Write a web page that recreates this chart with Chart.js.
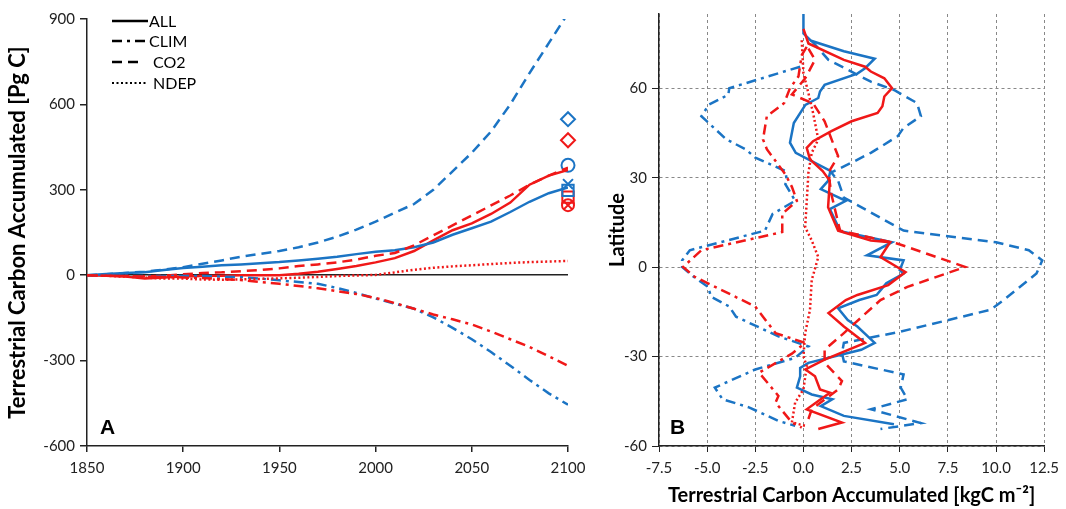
<!DOCTYPE html>
<html>
<head>
<meta charset="utf-8">
<script src="https://cdn.jsdelivr.net/npm/chart.js@4.4.1/dist/chart.umd.min.js"></script>
<style>
  html, body { margin: 0; padding: 0; background: #fff; }
  #wrap { position: relative; width: 1066px; height: 509px; }
  #chartA { position: absolute; left: 0; top: 0; }
  #chartB { position: absolute; left: 590px; top: 0; }
</style>
</head>
<body>
<div id="wrap">
  <canvas id="chartA" width="600" height="509"></canvas>
  <canvas id="chartB" width="476" height="509"></canvas>
</div>
<script>
// ---- Panel A: global accumulation [Pg C] by year ----
const years = [1850, 1860, 1870, 1880, 1890, 1900, 1910, 1920, 1930, 1940, 1950, 1960, 1970,
               1980, 1990, 2000, 2010, 2020, 2030, 2040, 2050, 2060, 2070, 2080, 2090, 2100];
const allBlue  = [0, 4, 8, 10, 18, 25, 30, 35, 38, 42, 46, 52, 58, 65, 74, 82, 88, 98, 115, 142, 165, 188, 222, 258, 288, 308];
const allRed   = [0, -2, -5, -12, -8, -5, -3, -2, 0, 0, 0, 5, 12, 22, 32, 45, 60, 85, 122, 158, 182, 215, 255, 318, 350, 370];
const climBlue = [0, -1, -2, -3, -3, -3, -3, -5, -7, -12, -18, -24, -30, -45, -62, -82, -100, -118, -148, -185, -225, -270, -318, -368, -415, -455];
const climRed  = [0, -2, -3, -5, -6, -8, -10, -14, -17, -24, -30, -38, -46, -56, -66, -80, -98, -118, -138, -155, -173, -198, -225, -252, -285, -318];
const co2Blue  = [0, 3, 8, 12, 20, 28, 40, 52, 65, 75, 85, 98, 115, 135, 160, 188, 220, 250, 300, 365, 430, 505, 600, 710, 815, 920];
const co2Red   = [0, -2, -3, -4, -2, 3, 8, 10, 14, 18, 24, 32, 38, 45, 55, 68, 78, 105, 140, 175, 210, 245, 280, 318, 350, 378];
const ndepRed  = [0, -2, -5, -8, -12, -12, -15, -16, -15, -13, -11, -9, -6, -3, -1, 1, 10, 19, 26, 31, 35, 39, 43, 46, 48, 50];

// markers at 2100 (other model estimates)
const markYear = 2100;
const blueMarks = { diamond: 548, circle: 386, cross: 320, square: 298 };
const redMarks  = { diamond: 474, circle: 246, cross: 246, square: 274 };

// ---- Panel B: zonal accumulation [kgC m-2] by latitude ----
const allBlueLat = [85, 78.5, 76, 72.5, 70, 66.8, 65, 61.2, 59, 56.8, 54.5, 48.4, 41.8, 38.4, 35, 32.3, 29, 26.2, 22.3, 19.5, 12.3, 11.8, 8.4, 4, 2.3, -1, -2.1, -5.4, -9.3, -11, -13.8, -17.7, -19.9, -25.4, -27.7, -29.3, -32.1, -33.8, -36.6, -40.4, -42.7, -44.3, -46.6, -49.9, -52.7];
const allBlueVal = [0, 0, 0.4, 2.1, 3.7, 3.2, 2.8, 1.1, 0.86, 0.77, 0.1, -0.5, -0.7, -0.4, 0.6, 1.4, 1.28, 0.9, 2.2, 1.37, 1.9, 2.1, 4.6, 3.3, 5.2, 5.0, 5.2, 4.3, 3.8, 2.9, 1.8, 2.3, 2.8, 3.7, 3.0, 2.0, 0.26, -0.17, -0.17, -0.34, 0.43, 1.5, 0.9, 2.1, 4.7];
const allRedLat  = [80, 75.1, 69.6, 67.3, 65.7, 63.4, 60.1, 57.3, 54, 51.8, 49, 45.7, 42.3, 40.1, 36.2, 32.3, 29, 20.1, 12.3, 9, 8.4, 3.4, -1.6, -6, -9.3, -11, -15.4, -19.9, -25.4, -31, -34.3, -36.6, -41, -42.1, -44.9, -47.7, -52.1, -54.3];
const allRedVal  = [0, 0.26, 2.1, 3.2, 3.5, 4.2, 4.6, 4.2, 4.1, 3.85, 2.5, 1.45, 0.5, 0.17, 0.34, 1.0, 1.37, 1.28, 1.8, 3.5, 4.5, 4.0, 5.3, 4.4, 2.8, 2.2, 1.3, 2.1, 3.2, 1.1, 0.1, 0.6, 0.86, 1.37, 0.77, 0.17, 2.0, 0.77];
const climBlueLat = [67.3, 65.7, 60.1, 57.9, 54.6, 50.7, 42.9, 39.6, 36.8, 32.3, 29, 27.9, 22.3, 17.9, 12.3, 5.7, 2.3, 0.1, -3.2, -6.6, -9.9, -13.2, -16.6, -23.2, -26.6, -30.4, -34.3, -40.4, -44.3, -47.1, -51.6, -53.2];
const climBlueVal = [-0.17, -1.0, -3.85, -3.9, -4.9, -5.3, -4.0, -3.0, -2.5, -0.94, -0.86, -0.94, -0.43, -1.6, -2.0, -5.9, -6.3, -6.3, -5.7, -4.95, -4.8, -3.85, -3.5, -1.3, 0.26, -0.43, -2.5, -4.6, -4.2, -2.8, -1.3, -0.43];
const climRedLat = [74, 71.2, 64, 60.1, 55.1, 50.7, 42.9, 39.6, 35.7, 31.2, 27, 22.3, 17.9, 11.8, 5.7, 0.1, -3.2, -13.2, -22.1, -25.4, -29, -35.4, -43.2, -45.4, -52.1, -53.8];
const climRedVal = [0.17, -0.09, -0.26, -0.7, -1.0, -1.9, -2.1, -1.9, -1.45, -0.94, -0.6, -0.34, -1.1, -1.1, -5.3, -6.25, -5.65, -2.5, -1.45, 0.09, -0.6, -2.3, -1.3, -1.45, -0.6, -0.09];
const co2BlueLat = [76, 69.6, 62.3, 59.5, 55.1, 50.7, 46.8, 44, 38.4, 35.1, 31.8, 29, 23.4, 12.3, 8.4, 5.7, 2.3, -2.1, -11.5, -14.3, -21.6, -25.4, -28.8, -31.6, -36, -40.4, -44.3, -47.7, -52.3, -54.3];
const co2BlueVal = [0.43, 1.3, 3.5, 4.7, 5.9, 6.1, 5.2, 4.9, 3.5, 2.5, 1.45, 1.8, 2.1, 5.2, 10.0, 11.7, 12.4, 12.1, 10.3, 9.7, 5.05, 2.1, 2.0, 2.1, 5.2, 5.05, 5.4, 3.5, 6.1, 4.0];
const co2RedLat  = [73.4, 69.6, 63.4, 58, 55, 49, 40.6, 37.3, 31.8, 24.5, 12.3, 7.9, 0.1, -6.6, -11, -22.1, -27.7, -32.1, -38.2, -41, -47.7, -52];
const co2RedVal  = [0.26, 0.6, 0.09, -0.6, 0.5, 1.1, 1.6, 1.8, 1.3, 1.45, 1.9, 4.9, 8.4, 5.4, 4.0, 2.1, 1.1, 1.1, 2.0, 1.8, 0.43, 0.2];
const ndepRedLat = [76.2, 65.1, 58.4, 51.8, 42.9, 38.4, 31.8, 13.4, 9, 3.4, -4.3, -14.3, -22.1, -29.9, -33.2, -41, -45.4, -52.1, -53.2];
const ndepRedVal = [-0.09, 0, 0.26, 0.5, 0.77, 0.43, 0.26, 0.09, 0.43, 0.77, 0.43, 0.34, 0.09, 0, 0.17, 0, -0.43, -0.6, 0.09];

const legendLabels = ['ALL', 'CLIM', 'CO2', 'NDEP'];

// styles
const BLUE = '#1b74c4';
const RED = '#f01818';
const DASH = { all: [], clim: [10, 5, 3, 5], co2: [10, 6], ndep: [2, 2.5] };
const FONT = "Lato, 'Open Sans', sans-serif";

function byYear(vals) {
    return vals.map((v, i) => ({ x: years[i], y: v }));
}
function byLat(vals, lats) {
    return vals.map((v, i) => ({ x: v, y: lats[i] }));
}
function lineSet(data, color, dash) {
    return { data: data, showLine: true, borderColor: color, borderWidth: 2.5,
             borderDash: dash, pointRadius: 0, fill: false, tension: 0 };
}
function markSet(value, color, style, radius) {
    return { data: [{ x: markYear, y: value }], showLine: false, clip: false,
             pointStyle: style, pointRadius: radius, borderColor: color,
             backgroundColor: 'rgba(0,0,0,0)', pointBorderWidth: 2 };
}

// legend and panel letters are drawn by hand
const panelAExtras = {
    id: 'panelAExtras',
    afterDraw(chart) {
        const ctx = chart.ctx;
        ctx.save();
        const dashes = [DASH.all, DASH.clim, DASH.co2, DASH.ndep];
        const rows = [21, 41, 62, 83];
        const ends = [148, 148, 142, 148];
        legendLabels.forEach((lbl, i) => {
            ctx.beginPath();
            ctx.setLineDash(dashes[i]);
            ctx.strokeStyle = '#000';
            ctx.lineWidth = i === 3 ? 2 : 2.5;
            ctx.moveTo(112, rows[i]);
            ctx.lineTo(ends[i], rows[i]);
            ctx.stroke();
            ctx.setLineDash([]);
            ctx.fillStyle = '#000';
            ctx.font = '16px ' + FONT;
            ctx.textBaseline = 'middle';
            ctx.fillText(lbl, i >= 2 ? 153 : 149, rows[i] + 1);
        });
        ctx.font = 'bold 21px Liberation Sans, Arial, sans-serif';
        ctx.textBaseline = 'middle';
        ctx.fillText('A', 100, 428);
        ctx.restore();
    }
};
const panelBExtras = {
    id: 'panelBExtras',
    afterDraw(chart) {
        const ctx = chart.ctx;
        ctx.save();
        ctx.fillStyle = '#000';
        ctx.font = 'bold 21px Liberation Sans, Arial, sans-serif';
        ctx.textBaseline = 'middle';
        ctx.fillText('B', 80, 428);
        ctx.restore();
    }
};

const tickFont = { family: FONT, size: 15 };

new Chart(document.getElementById('chartA'), {
    type: 'scatter',
    data: {
        datasets: [
            lineSet(byYear(ndepRed), RED, DASH.ndep),
            lineSet(byYear(climRed), RED, DASH.clim),
            lineSet(byYear(climBlue), BLUE, DASH.clim),
            lineSet(byYear(co2Red), RED, DASH.co2),
            lineSet(byYear(co2Blue), BLUE, DASH.co2),
            lineSet(byYear(allBlue), BLUE, DASH.all),
            lineSet(byYear(allRed), RED, DASH.all),
            markSet(blueMarks.diamond, BLUE, 'rectRot', 7),
            markSet(redMarks.diamond, RED, 'rectRot', 7),
            markSet(blueMarks.circle, BLUE, 'circle', 6.5),
            markSet(blueMarks.cross, BLUE, 'crossRot', 7),
            markSet(blueMarks.square, BLUE, 'rect', 8),
            markSet(redMarks.square, RED, 'rect', 8),
            markSet(redMarks.circle, RED, 'circle', 6),
            markSet(redMarks.cross, RED, 'crossRot', 6)
        ]
    },
    options: {
        responsive: false,
        animation: false,
        layout: { padding: { top: 19, right: 32, left: 0, bottom: 0 } },
        plugins: { legend: { display: false }, tooltip: { enabled: false } },
        scales: {
            x: {
                type: 'linear', min: 1850, max: 2100,
                afterFit: s => { s.height = 63; },
                ticks: { stepSize: 50, color: '#222', font: tickFont, padding: 7,
                         callback: v => String(v) },
                grid: { drawOnChartArea: false, tickLength: 6, tickColor: '#222', lineWidth: 1.5 },
                border: { color: '#222', width: 1.5 }
            },
            y: {
                min: -600, max: 900,
                afterFit: s => { s.width = 87; },
                ticks: { stepSize: 300, color: '#222', font: tickFont, padding: 5 },
                grid: {
                    color: c => (c.tick && c.tick.value === 0 ? '#222' : 'rgba(0,0,0,0)'),
                    tickColor: '#222', tickLength: 7, lineWidth: 1.5
                },
                border: { color: '#222', width: 1.5 },
                title: { display: true, text: 'Terrestrial Carbon Accumulated [Pg C]',
                         color: '#000', font: { family: FONT, size: 22, weight: 'bold' },
                         padding: { top: 5, bottom: 0 } }
            }
        }
    },
    plugins: [panelAExtras]
});

new Chart(document.getElementById('chartB'), {
    type: 'scatter',
    data: {
        datasets: [
            lineSet(byLat(ndepRedVal, ndepRedLat), RED, DASH.ndep),
            lineSet(byLat(climRedVal, climRedLat), RED, DASH.clim),
            lineSet(byLat(co2RedVal, co2RedLat), RED, DASH.co2),
            lineSet(byLat(allRedVal, allRedLat), RED, DASH.all),
            lineSet(byLat(climBlueVal, climBlueLat), BLUE, DASH.clim),
            lineSet(byLat(co2BlueVal, co2BlueLat), BLUE, DASH.co2),
            lineSet(byLat(allBlueVal, allBlueLat), BLUE, DASH.all)
        ]
    },
    options: {
        responsive: false,
        animation: false,
        layout: { padding: { top: 12, right: 18, left: 0, bottom: 0 } },
        plugins: { legend: { display: false }, tooltip: { enabled: false } },
        scales: {
            x: {
                type: 'linear', min: -7.5, max: 12.5,
                afterFit: s => { s.height = 63; },
                ticks: { stepSize: 2.5, color: '#222', font: tickFont, padding: 7,
                         callback: v => v.toFixed(1) },
                grid: { color: '#888', tickColor: '#222', tickLength: 6, lineWidth: 1 },
                border: { color: '#222', width: 1.5, dash: [3, 3] },
                title: { display: true, text: 'Terrestrial Carbon Accumulated [kgC m\u207B\u00B2]',
                         color: '#000', font: { family: FONT, size: 20, weight: 'bold' },
                         padding: { top: 2, bottom: 1 } }
            },
            y: {
                min: -60, max: 85,
                afterFit: s => { s.width = 69; },
                ticks: { stepSize: 30, includeBounds: false, color: '#222', font: tickFont, padding: 5 },
                grid: { color: '#888', tickColor: '#222', tickLength: 7, lineWidth: 1 },
                border: { color: '#222', width: 1.5, dash: [3, 3] },
                title: { display: true, text: 'Latitude', color: '#000',
                         font: { family: FONT, size: 20, weight: 'bold' },
                         padding: { top: 16, bottom: 0 } }
            }
        }
    },
    plugins: [panelBExtras]
});
</script>
</body>
</html>
